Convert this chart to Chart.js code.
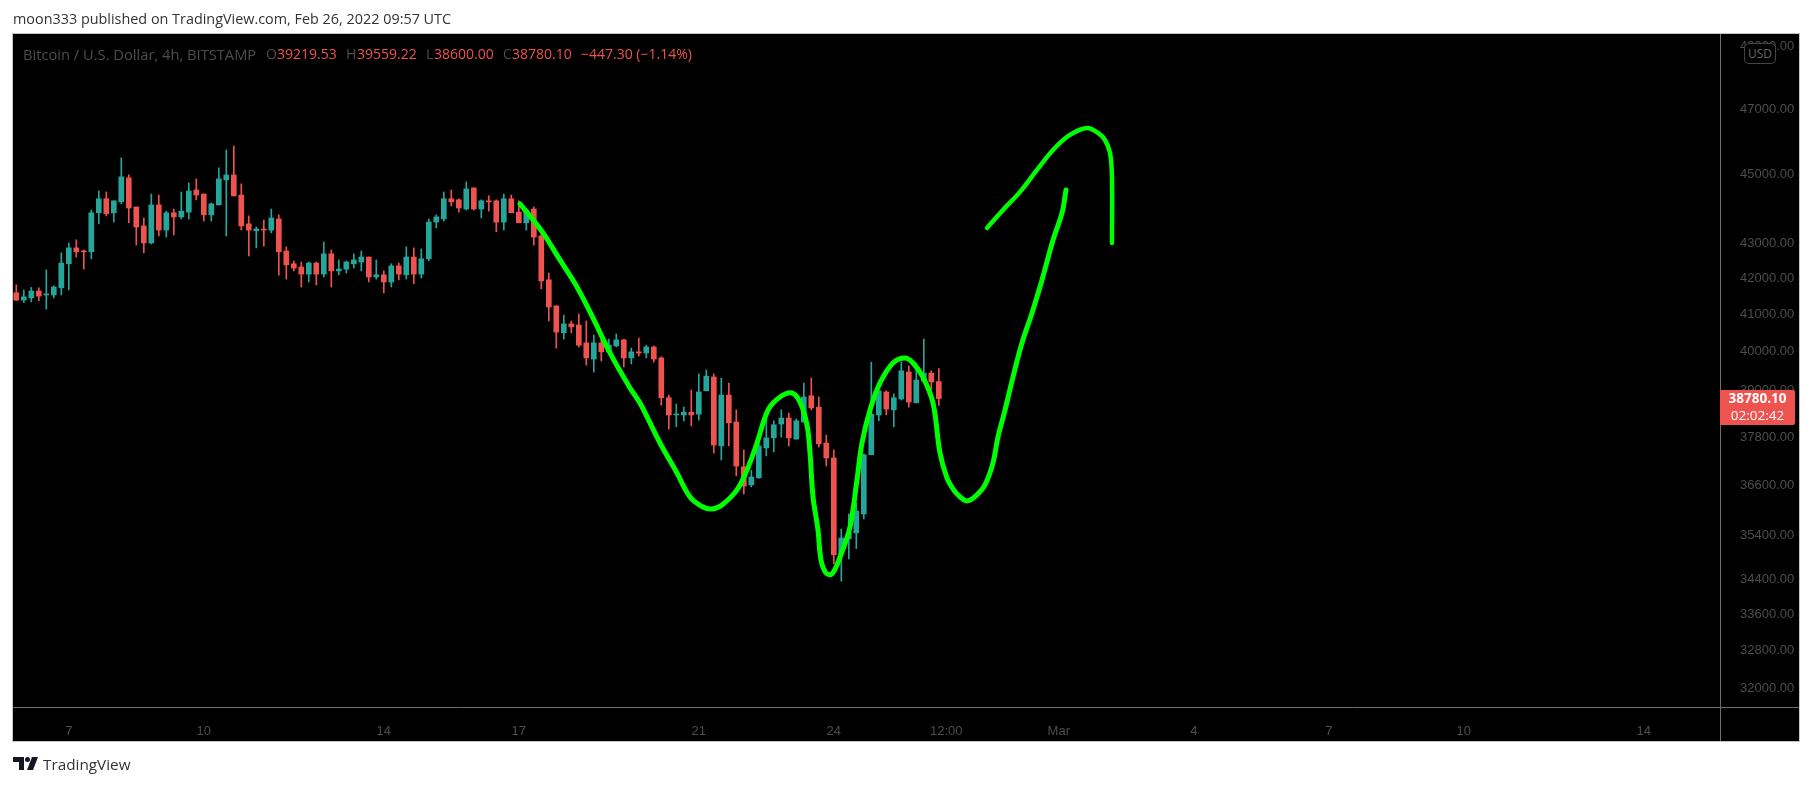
<!DOCTYPE html>
<html>
<head>
<meta charset="utf-8">
<title>Bitcoin / U.S. Dollar, 4h, BITSTAMP</title>
<script src="https://cdn.jsdelivr.net/npm/chart.js@4"></script>
<style>
  html, body { margin: 0; padding: 0; background: #fff; overflow: hidden; }
  #wrap { position: relative; width: 1813px; height: 786px; }
  canvas { position: absolute; left: 0; top: 0; }
  .txt { position: absolute; white-space: nowrap; font-family: "Open Sans", sans-serif; }
  .dim { color: #4d4d4d; font-size: 14px; top: 44px; }
  .red { color: #ef5350; font-size: 14px; top: 44px; }
</style>
</head>
<body>
<div id="wrap">
  <canvas id="chart" width="1813" height="786"></canvas>
  <div class="txt" style="left:13px;top:9px;font-size:14.4px;color:#333">moon333 published on TradingView.com, Feb 26, 2022 09:57 UTC</div>
  <div class="txt dim" style="left:23px;font-size:14.7px">Bitcoin / U.S. Dollar, 4h, BITSTAMP</div>
  <div class="txt dim" style="left:266px">O</div><div class="txt red" style="left:277px">39219.53</div>
  <div class="txt dim" style="left:346px">H</div><div class="txt red" style="left:357px">39559.22</div>
  <div class="txt dim" style="left:426px">L</div><div class="txt red" style="left:434px">38600.00</div>
  <div class="txt dim" style="left:503px">C</div><div class="txt red" style="left:512px">38780.10</div>
  <div class="txt red" style="left:581px">−447.30 (−1.14%)</div>
  <div class="txt" style="left:1744px;top:43px;width:30px;height:19px;line-height:19px;text-align:center;font-size:12px;color:#666;border:1px solid #444;border-radius:5px;background:#000">USD</div>
  <div class="txt" style="left:1720px;top:390px;width:75px;height:35px;background:#ef5350;border-radius:0 2px 2px 0;color:#fff;font-size:13.5px;line-height:17px;text-align:center;padding-top:0;box-sizing:border-box"><b>38780.10</b><br>02:02:42</div>
  <svg style="position:absolute;left:13px;top:757px" width="25" height="14" viewBox="0 0 25 14">
    <path fill="#131722" d="M0 0h11v13h-5v-8h-6z"/><circle cx="14.5" cy="2.5" r="2.5" fill="#131722"/><path fill="#131722" d="M19 0h6l-5 13h-6z"/>
  </svg>
  <div class="txt" style="left:43px;top:754px;font-size:15.3px;color:#333">TradingView</div>
</div>
<script>
// 4h candles, first one is Feb 5 20:00, one step on the x axis = one candle
const candleOpen = [41600,41400,41460,41650,41540,41540,41740,42410,42860,42770,42750,43870,44280,43870,44190,44900,44040,43490,43000,44100,
  43370,43870,43750,43890,44540,44420,43810,44100,44840,44985,44390,43550,43350,43400,43370,43690,42770,42410,42320,42120,
  42430,42120,42690,42210,42260,42410,42460,42600,42040,42100,41900,42350,42100,42600,42120,42550,43600,43690,44280,44250,
  43980,44600,43980,44220,44220,43600,44280,43890,43580,43980,43200,41960,41240,40510,40750,40720,40240,39810,40240,40000,
  40160,40320,39840,40000,39970,40130,39840,38800,38360,38360,38430,38380,38980,39340,37580,38870,38180,37060,36620,36790,
  37530,37780,38130,38280,37750,38180,38850,38560,37650,37280,34980,35330,35470,35920,37360,38360,38950,38490,38770,39470,
  38670,39230,39440,39219.53];
const candleHigh = [41820,41680,41750,41740,42240,41790,42720,43000,43090,42800,43950,44510,44480,44220,45500,44990,44040,43720,44420,44390,
  43920,43980,44480,44750,44870,44420,44160,45200,45740,45860,44720,43780,43460,43660,43980,43810,42890,42490,42460,42460,
  42460,43030,42800,42520,42490,42690,42770,42600,42520,42210,42410,42430,42890,42860,42830,43690,43810,44480,44540,44280,
  44780,44600,44250,44370,44250,44420,44390,44220,43980,44040,43370,42150,41240,40990,40830,41020,40830,40450,40320,40340,
  40480,40340,40100,40370,40180,40160,39870,38870,38640,38560,39000,39420,39520,39420,39310,39180,38490,37480,36980,37900,
  38360,38210,38490,38410,38260,39180,39310,38820,37850,37480,35560,35920,36180,37380,39730,38980,38980,38900,39730,39630,
  39710,40340,39500,39559.22];
const candleLow = [41380,41330,41350,41380,41155,41460,41540,41680,42600,42260,42550,43550,43780,43600,44130,43580,42940,42720,42970,43200,
  43170,43230,43690,43690,44250,43630,43630,44100,43200,44365,43370,42630,42860,42910,43290,42090,41980,42210,41760,41900,
  41820,42040,41760,42100,42150,42290,42210,41900,41980,41600,41760,41960,41980,41850,42010,42490,43430,43630,44070,43890,
  43950,43950,43720,43920,43320,43370,43870,43580,43370,42940,41710,40830,40100,40340,40510,40130,39650,39470,39760,40000,
  40130,39600,39680,39890,39840,39730,38610,38000,38060,38210,38080,38230,38980,37400,37230,37580,36840,36400,36570,36780,
  37330,37430,37800,37580,37750,38180,38490,37550,37080,34750,34350,34860,35100,35800,37360,38210,38360,38060,38740,38560,
  38670,39230,39000,38600];
const candleClose = [41400,41490,41650,41510,41570,41760,42430,42860,42750,42745,43870,44280,43840,44220,44930,44010,43460,43000,44100,43370,
  43870,43750,43920,44510,44390,43810,44130,44870,44985,44365,43490,43370,43400,43370,43720,42750,42380,42290,42120,42430,
  42120,42690,42210,42260,42460,42520,42600,42040,42100,41900,42350,42120,42600,42120,42550,43600,43750,44280,44190,44010,
  44570,43980,44220,44190,43600,44280,43870,43580,43950,43170,41930,41210,40530,40750,40670,40180,39840,40240,40000,40180,
  40320,39840,40000,39970,40130,39810,38800,38360,38380,38430,38360,38950,39360,37600,38870,38160,37080,36590,36810,37580,
  37780,38110,38280,37780,38210,38820,38540,37630,37280,34960,35350,35470,35990,37360,38380,38980,38510,38800,39500,38690,
  39260,39440,39210,38780.10];

// the hand drawn green lines, x in candle steps, y in price
const drawnDownX = [67.16,68.49,70.23,72.49,74.76,76.89,79.16,81.83,83.16,85.83,88.09,89.83,91.56,92.76,94.09,96.09,97.43,98.76,100.23,101.83,
  103.43,104.49,105.43,105.83,106.23,106.89,107.29,107.96,108.76,109.83,111.16,112.09,112.76,113.83,115.16,116.89,118.49,119.56,120.89,122.23,
  123.16,124.09,124.89,125.56,126.76,128.09,129.16,130.23,130.89,131.83,132.89,134.09,135.43,136.76,138.23,139.43,139.96];
const drawnDownPrice = [44129,43779,43288,42518,41763,40912,39972,39054,38665,37652,36910,36327,36085,36037,36134,36497,36984,37652,38485,38821,
  38924,38691,38106,37405,36327,35541,34840,34539,34516,34909,35611,36739,37652,38485,39183,39708,39840,39708,39338,38665,
  37405,36788,36522,36376,36231,36376,36618,37157,37804,38485,39338,40236,41047,41956,43085,43865,44542];
const drawnUpX = [129.43,131.56,133.83,136.09,138.23,140.49,142.76,144.23,145.16,145.83,146.09,146.09];
const drawnUpPrice = [43432,43952,44483,45136,45740,46197,46413,46258,46042,45649,44926,42999];

const priceTicks = [49000,47000,45000,43000,42000,41000,40000,39000,37800,36600,35400,34400,33600,32800,32000];
const timeTicks = [7,25,49,67,91,109,124,139,157,175,193,217];
const timeLabels = ['7','10','14','17','21','24','12:00','Mar','4','7','10','14'];

const UP = '#26a69a';
const DOWN = '#ef5350';
const candleColors = candleOpen.map((o, i) => candleClose[i] >= o ? UP : DOWN);

const paneBackground = {
  id: 'paneBackground',
  beforeDraw(chart) {
    const c = chart.ctx;
    c.save();
    c.fillStyle = '#000';
    c.fillRect(13, 34, 1786, 708);
    c.restore();
  },
  afterDatasetsDraw(chart) {
    const c = chart.ctx, a = chart.chartArea;
    c.save();
    c.strokeStyle = '#6e6e6e';
    c.lineWidth = 1;
    c.beginPath();
    c.moveTo(13, a.bottom + 0.5); c.lineTo(1799, a.bottom + 0.5);
    c.moveTo(a.right + 0.5, 34); c.lineTo(a.right + 0.5, 742);
    c.stroke();
    c.strokeStyle = '#c4c4c8';
    c.strokeRect(12.5, 33.5, 1787, 708);
    c.restore();
  }
};

new Chart(document.getElementById('chart'), {
  type: 'bar',
  plugins: [paneBackground],
  data: {
    datasets: [
      {
        data: candleOpen.map((o, i) => ({ x: i, y: [candleLow[i], candleHigh[i]] })),
        backgroundColor: candleColors,
        barThickness: 1,
        grouped: false,
        order: 3
      },
      {
        data: candleOpen.map((o, i) => ({ x: i, y: [Math.min(o, candleClose[i]), Math.max(o, candleClose[i])] })),
        backgroundColor: candleColors,
        barThickness: 5,
        minBarLength: 1,
        grouped: false,
        order: 2
      },
      {
        type: 'line',
        data: drawnDownX.map((x, i) => ({ x: x, y: drawnDownPrice[i] })),
        borderColor: '#00ff00',
        borderWidth: 5,
        borderCapStyle: 'round',
        borderJoinStyle: 'round',
        tension: 0.35,
        pointRadius: 0,
        order: 1
      },
      {
        type: 'line',
        data: drawnUpX.map((x, i) => ({ x: x, y: drawnUpPrice[i] })),
        borderColor: '#00ff00',
        borderWidth: 4.5,
        borderCapStyle: 'round',
        borderJoinStyle: 'round',
        tension: 0.35,
        pointRadius: 0,
        order: 1
      }
    ]
  },
  options: {
    responsive: false,
    animation: false,
    devicePixelRatio: 1,
    layout: { padding: { left: 13, top: 34, right: 0, bottom: 0 } },
    plugins: { legend: { display: false }, tooltip: { enabled: false } },
    scales: {
      x: {
        type: 'linear',
        offset: false,
        min: -0.44,
        max: 227.16,
        grid: { display: false },
        border: { display: false },
        afterFit(scale) { scale.height = 79; },
        afterBuildTicks(scale) { scale.ticks = timeTicks.map(v => ({ value: v })); },
        ticks: {
          autoSkip: false,
          maxRotation: 0,
          padding: 9,
          color: '#4d4d4d',
          font: { family: 'Liberation Sans', size: 13 },
          callback: v => timeLabels[timeTicks.indexOf(v)]
        }
      },
      y: {
        type: 'logarithmic',
        position: 'right',
        min: 31598,
        max: 49400,
        grid: { display: false },
        border: { display: false },
        afterFit(scale) { scale.width = 93; },
        afterBuildTicks(scale) { scale.ticks = priceTicks.map(v => ({ value: v })); },
        ticks: {
          autoSkip: false,
          padding: 12,
          color: '#4d4d4d',
          font: { family: 'Liberation Sans', size: 13 },
          callback: v => v.toFixed(2)
        }
      }
    }
  }
});
</script>
</body>
</html>
